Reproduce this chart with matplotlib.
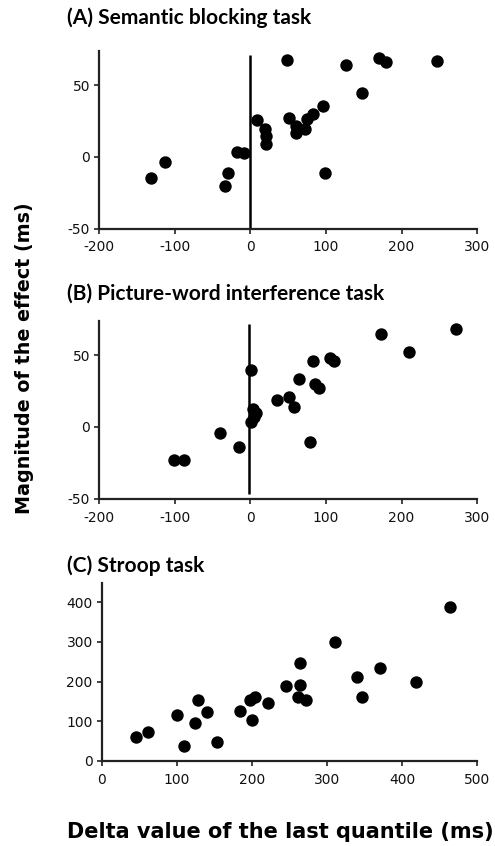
import numpy as np
import matplotlib
matplotlib.use("Agg")
import matplotlib.pyplot as plt

plt.rcParams["axes.unicode_minus"] = False

# (A) Semantic blocking task
sem_x = [-131.6, -113, -33.2, -29.2, -16.9, -8.9, 8.7, 19.8, 20.2, 21, 48, 51.1,
         59.9, 60.8, 72.3, 75.4, 82.9, 95.7, 98.3, 126.6, 148.2, 170.3, 179.5, 247.5]
sem_y = [-14.4, -3.7, -20, -11.2, 3.3, 2.8, 25.6, 19.3, 14.4, 9.1, 67.4, 27,
         21.2, 16.5, 19.3, 26.3, 30.2, 35.6, -11.2, 64.2, 44.4, 69.1, 66.3, 67]

# (B) Picture-word interference task
pwi_x = [-100.9, -87.7, -39.6, -14.5, 0.4, 4, 7.5, 4.8, 1.3, 35.7, 50.7,
         58.1, 63.9, 79.3, 82.4, 85, 90.7, 105.3, 110.1, 172.2, 209.7, 271.4]
pwi_y = [-23.3, -23.3, -4.2, -14, 39.8, 12.8, 9.5, 7.2, 3.7, 18.6, 20.9,
         13.7, 33.3, -10.2, 45.6, 30, 27.4, 47.7, 46, 64.4, 52.1, 68.1]

# (C) Stroop task
stroop_x = [45.3, 61.7, 99.8, 110, 124.2, 128.7, 140.2, 153.5, 184.6, 197.9, 200.1, 204.5,
            221.8, 244.9, 263.5, 263.5, 260.9, 272, 310.6, 339.8, 346.1, 370, 418.8, 464.1]
stroop_y = [59.8, 71.6, 115.4, 36.2, 96, 153.3, 123, 47.2, 125.5, 154.1, 101.9, 161.7,
            145.7, 188.6, 246.7, 191.2, 161.7, 152.4, 300.6, 210.5, 160.8, 234.1, 199.6, 389]

titles = ["(A) Semantic blocking task", "(B) Picture-word interference task", "(C) Stroop task"]

title_font = ["Lato", "DejaVu Sans"]
label_font = "DejaVu Sans"
tick_font = "DejaVu Sans"

fig = plt.figure(figsize=(4.95, 8.46), dpi=100)

ax_a = fig.add_axes([0.200, 0.7297, 0.764, 0.2104])
ax_b = fig.add_axes([0.200, 0.4105, 0.764, 0.2104])
ax_c = fig.add_axes([0.2055, 0.1008, 0.7588, 0.2097])

panels = [
    (ax_a, sem_x, sem_y, (-200, 300), np.arange(-200, 301, 100), (-50, 74), [-50, 0, 50]),
    (ax_b, pwi_x, pwi_y, (-200, 300), np.arange(-200, 301, 100), (-50, 74), [-50, 0, 50]),
    (ax_c, stroop_x, stroop_y, (0, 500), np.arange(0, 501, 100), (0, 448), np.arange(0, 401, 100)),
]

for ax, xs, ys, xl, xt, yl, yt in panels:
    ax.scatter(xs, ys, s=80, color="black", zorder=3, linewidths=0)
    ax.set_xlim(*xl)
    ax.set_ylim(*yl)
    ax.set_xticks(xt)
    ax.set_yticks(yt)
    for s in ["top", "right"]:
        ax.spines[s].set_visible(False)
    for s in ["left", "bottom"]:
        ax.spines[s].set_linewidth(1.6)
        ax.spines[s].set_color("#222222")
    ax.tick_params(direction="out", length=3.5, width=1.2, color="#222222",
                   labelsize=10, pad=3)
    ax.tick_params(axis="x", pad=5)
    for lab in ax.get_xticklabels() + ax.get_yticklabels():
        lab.set_family(tick_font)
        lab.set_color("#111111")
    ax.patch.set_alpha(0)

# zero reference lines in panels A and B
ax_a.vlines(0, -50, 71, color="black", linewidth=1.8, zorder=2)
ax_b.vlines(-1.5, -47, 72, color="black", linewidth=1.8, zorder=2)

# panel titles
for t, y in zip(titles, [18, 294, 566]):
    fig.text(67 / 495, 1 - y / 846, t, fontsize=15, fontweight="bold",
             family=title_font, va="center", ha="left")

fig.text(25 / 495, 1 - 358 / 846, "Magnitude of the effect (ms)", fontsize=13.8,
         fontweight="bold", family=label_font, rotation=90, va="center", ha="center")
fig.text(280 / 495, 1 - 832 / 846, "Delta value of the last quantile (ms)", fontsize=15,
         fontweight="bold", family=label_font, va="center", ha="center")

fig.savefig("out.png", dpi=100)
